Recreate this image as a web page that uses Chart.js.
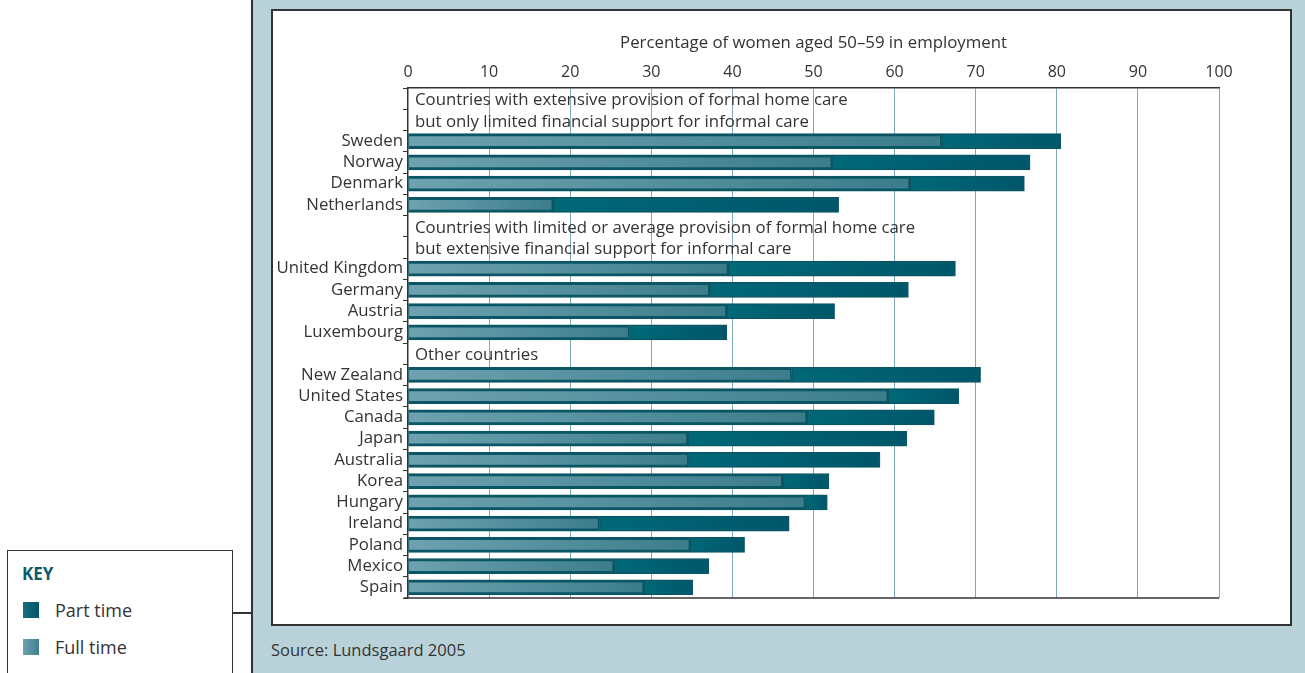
<!DOCTYPE html>
<html>
<head>
<meta charset="utf-8">
<script src="https://cdn.jsdelivr.net/npm/chart.js@4.4.1/dist/chart.umd.min.js"></script>
<style>
  html, body { margin:0; padding:0; width:1305px; height:673px; overflow:hidden; background:#fff; font-family:"Open Sans", sans-serif; color:#333; }
  #panel { position:absolute; left:251px; top:0; width:1054px; height:673px; background:#b9d2d9; border-left:2px solid #333; box-sizing:border-box; }
  #inner { position:absolute; left:271px; top:9px; width:1021px; height:617px; background:#fff; border:2px solid #333; box-sizing:border-box; }
  #chart { position:absolute; left:273px; top:11px; }
  #source { position:absolute; left:271px; top:638px; font-size:16.5px; color:#333; }
  #key { position:absolute; left:7px; top:550px; width:226px; height:140px; background:#fff; border:1.5px solid #333; box-sizing:border-box; }
  #keyline { position:absolute; left:232px; top:612px; width:20px; height:2px; background:#333; }
  #key .t { position:absolute; left:14px; top:11px; font-weight:bold; font-size:17px; color:#0b5c6b; }
  #key .sw { position:absolute; left:15px; width:16px; height:16px; }
  #key .lb { position:absolute; left:47px; font-size:18px; color:#333; }
</style>
</head>
<body>
<div id="panel"></div>
<div id="inner"></div>
<canvas id="chart" width="1016" height="611"></canvas>
<div id="source">Source: Lundsgaard 2005</div>
<div id="keyline"></div>
<div id="key">
  <div class="t">KEY</div>
  <div class="sw" style="top:51px;background:linear-gradient(90deg,#17707f,#005465);"></div>
  <div class="lb" style="top:47px;">Part time</div>
  <div class="sw" style="top:88px;background:linear-gradient(90deg,#6ea2b0,#3f808e);"></div>
  <div class="lb" style="top:84px;">Full time</div>
</div>
<script>
// ---- data ----
const axisTitle = "Percentage of women aged 50\u201359 in employment";
const tickValues = [0, 10, 20, 30, 40, 50, 60, 70, 80, 90, 100];

const group1Heading = ["Countries with extensive provision of formal home care", "but only limited financial support for informal care"];
const group1Countries = ["Sweden", "Norway", "Denmark", "Netherlands"];
const group1FullTime = [65.8, 52.3, 61.9, 17.9];
const group1PartTime = [14.7, 24.4, 14.1, 35.2];

const group2Heading = ["Countries with limited or average provision of formal home care", "but extensive financial support for informal care"];
const group2Countries = ["United Kingdom", "Germany", "Austria", "Luxembourg"];
const group2FullTime = [39.5, 37.2, 39.3, 27.3];
const group2PartTime = [28.0, 24.5, 13.3, 12.0];

const group3Heading = ["Other countries"];
const group3Countries = ["New Zealand", "United States", "Canada", "Japan", "Australia", "Korea", "Hungary", "Ireland", "Poland", "Mexico", "Spain"];
const group3FullTime = [47.3, 59.2, 49.2, 34.5, 34.6, 46.2, 49.0, 23.6, 34.8, 25.4, 29.1];
const group3PartTime = [23.3, 8.7, 15.7, 27.0, 23.6, 5.7, 2.7, 23.4, 6.7, 11.7, 6.0];

// ---- build rows (heading rows have no bars) ----
const groups = [
  [group1Heading, group1Countries, group1FullTime, group1PartTime],
  [group2Heading, group2Countries, group2FullTime, group2PartTime],
  [group3Heading, group3Countries, group3FullTime, group3PartTime]
];
const labels = [], fullData = [], partData = [], headingRows = [];
groups.forEach(([head, cs, ft, pt]) => {
  head.forEach(h => { headingRows.push({row: labels.length, text: h}); labels.push(""); fullData.push(null); partData.push(null); });
  cs.forEach((c, i) => { labels.push(c); fullData.push(ft[i]); partData.push(pt[i]); });
});

const FONT = "'Open Sans', sans-serif";

function hGrad(ctx, c0, c1, from, to) {
  const chart = ctx.chart, x = chart.scales && chart.scales.x;
  if (!x || !chart.chartArea || ctx.type !== 'data') return c1;
  const x0 = x.getPixelForValue(from), x1 = x.getPixelForValue(to);
  if (!isFinite(x0) || !isFinite(x1) || x1 - x0 < 1) return c1;
  const g = chart.ctx.createLinearGradient(x0, 0, x1, 0);
  g.addColorStop(0, c0); g.addColorStop(1, c1);
  return g;
}

const headingPlugin = {
  id: 'headings',
  afterDatasetsDraw(chart) {
    const {ctx, chartArea} = chart, y = chart.scales.y;
    ctx.save();
    ctx.font = "16.8px " + FONT;
    ctx.fillStyle = "#333";
    ctx.textBaseline = "middle";
    ctx.textAlign = "left";
    headingRows.forEach(h => ctx.fillText(h.text, chartArea.left + 7, y.getPixelForValue(h.row) + 2));
    // bottom frame line of plot
    ctx.strokeStyle = "#333"; ctx.lineWidth = 1.5;
    ctx.beginPath(); ctx.moveTo(chartArea.left - 4, chartArea.bottom); ctx.lineTo(chartArea.right, chartArea.bottom); ctx.stroke();
    ctx.restore();
  }
};

new Chart(document.getElementById('chart'), {
  type: 'bar',
  data: {
    labels: labels,
    datasets: [
      {
        label: 'Full time',
        data: fullData,
        stack: 's',
        barThickness: 15,
        borderWidth: { top: 3, bottom: 3, left: 1, right: 2 },
        borderSkipped: false,
        borderColor: '#0b5664',
        backgroundColor: ctx => hGrad(ctx, '#6ea2b0', '#3c7d8b', 0, fullData[ctx.dataIndex] || 0)
      },
      {
        label: 'Part time',
        data: partData,
        stack: 's',
        barThickness: 15,
        borderWidth: 1.5,
        borderSkipped: false,
        borderColor: '#0b5664',
        backgroundColor: ctx => hGrad(ctx, '#006877', '#00566a', fullData[ctx.dataIndex] || 0, (fullData[ctx.dataIndex] || 0) + (partData[ctx.dataIndex] || 0))
      }
    ]
  },
  options: {
    indexAxis: 'y',
    responsive: false,
    animation: false,
    layout: { padding: { left: 0, right: 70, top: 0, bottom: 24 } },
    plugins: { legend: { display: false }, tooltip: { enabled: false }, title: { display: false } },
    scales: {
      x: {
        position: 'top',
        stacked: true,
        min: 0, max: 100,
        afterBuildTicks: s => { s.ticks = tickValues.map(v => ({value: v})); },
        afterFit: s => { s.height = 77; },
        ticks: { font: { size: 16, family: FONT }, color: '#333', padding: 6, maxRotation: 0 },
        grid: { drawTicks: false, color: c => (c.index === 0 ? 'rgba(0,0,0,0)' : '#7faab8'), lineWidth: 1 },
        border: { display: true, color: '#333', width: 1.5 },
        title: { display: true, text: axisTitle, font: { size: 16.8, family: FONT }, color: '#333', padding: { top: 22, bottom: 0 } }
      },
      y: {
        stacked: true,
        afterFit: s => { s.width = 135; },
        ticks: { font: { size: 16.8, family: FONT }, color: '#333', padding: 0, autoSkip: false },
        grid: { drawOnChartArea: false, drawTicks: true, tickLength: 5, offset: true, color: '#333', lineWidth: 1 },
        border: { display: true, color: '#333', width: 1.5 }
      }
    }
  },
  plugins: [headingPlugin]
});
</script>
</body>
</html>
